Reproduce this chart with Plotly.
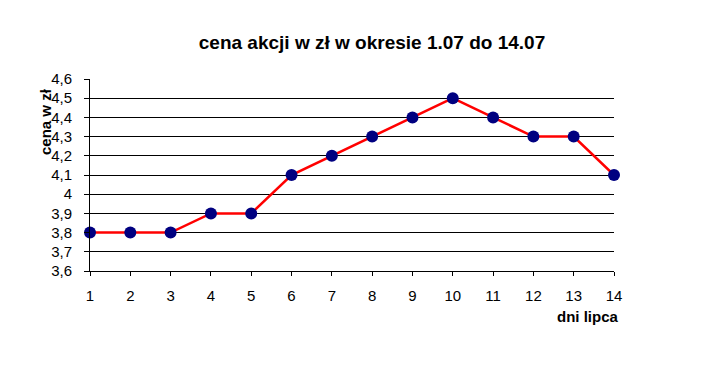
import plotly.graph_objects as go

days = list(range(1, 15))
prices = [3.8, 3.8, 3.8, 3.9, 3.9, 4.1, 4.2, 4.3, 4.4, 4.5, 4.4, 4.3, 4.3, 4.1]
y_ticks = [3.6, 3.7, 3.8, 3.9, 4.0, 4.1, 4.2, 4.3, 4.4, 4.5, 4.6]
y_tick_labels = ["3,6", "3,7", "3,8", "3,9", "4", "4,1", "4,2", "4,3", "4,4", "4,5", "4,6"]
title = "cena akcji w zł w okresie 1.07 do 14.07"
y_title = "cena w zł"
x_title = "dni lipca"

fig = go.Figure()
fig.add_trace(go.Scatter(
    x=days, y=prices, mode="lines+markers",
    line=dict(color="#ff0000", width=2.5),
    marker=dict(color="#000080", size=12),
    cliponaxis=False, showlegend=False,
))

font = "Liberation Sans, Arial, sans-serif"
fig.update_layout(
    width=722, height=370,
    margin=dict(l=90, r=108, t=79, b=99),
    paper_bgcolor="white", plot_bgcolor="white",
    font=dict(family=font, size=15, color="black"),
    title=dict(text="<b>" + title + "</b>", x=372 / 722, xanchor="center",
               y=1 - 42 / 370, yanchor="middle", font=dict(size=19)),
    xaxis=dict(range=[1, 14], tickvals=days, showgrid=False, zeroline=False,
               showline=True, linecolor="black", linewidth=1,
               ticks="outside", ticklen=4, tickcolor="black",
               ticklabelstandoff=7, tickfont=dict(size=15)),
    yaxis=dict(range=[3.6, 4.6], tickvals=y_ticks, ticktext=y_tick_labels,
               showgrid=True, gridcolor="black", gridwidth=1, zeroline=False,
               showline=True, linecolor="black", linewidth=1,
               ticks="outside", ticklen=5, tickcolor="black",
               ticklabelstandoff=9, tickfont=dict(size=15)),
    annotations=[
        dict(text="<b>" + y_title + "</b>", xref="paper", yref="paper",
             x=-45 / 524, y=1 - (122 - 79) / 192, textangle=-90,
             showarrow=False, xanchor="center", yanchor="middle",
             font=dict(size=15)),
        dict(text="<b>" + x_title + "</b>", xref="paper", yref="paper",
             x=(588 - 90) / 524, y=-(316 - 271) / 192,
             showarrow=False, xanchor="center", yanchor="middle",
             font=dict(size=15)),
    ],
)

fig.write_html("out.html")
